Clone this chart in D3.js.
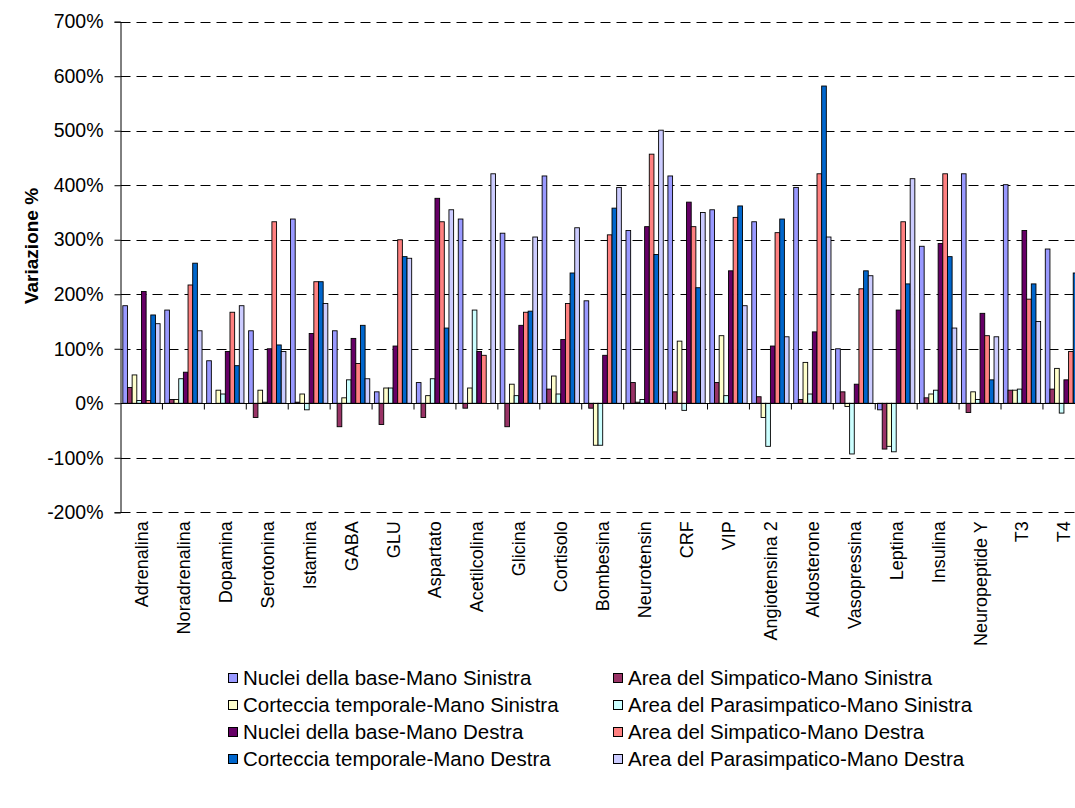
<!DOCTYPE html>
<html>
<head>
<meta charset="utf-8">
<script src="https://cdn.jsdelivr.net/npm/d3@7/dist/d3.min.js"></script>
<style>
  html, body { margin: 0; padding: 0; background: #fff; overflow: hidden; }
  svg { display: block; font-family: "Liberation Sans", Arial, sans-serif; }
</style>
</head>
<body>
<svg id="chart" width="1075" height="808"></svg>
<script>
// Neurotransmitters / hormones measured
const categories = ["Adrenalina","Noradrenalina","Dopamina","Serotonina","Istamina","GABA","GLU",
  "Aspartato","Acetilcolina","Glicina","Cortisolo","Bombesina","Neurotensin","CRF","VIP",
  "Angiotensina 2","Aldosterone","Vasopressina","Leptina","Insulina","Neuropeptide Y","T3","T4"];

const seriesNames = [
  "Nuclei della base-Mano Sinistra",
  "Area del Simpatico-Mano Sinistra",
  "Corteccia temporale-Mano Sinistra",
  "Area del Parasimpatico-Mano Sinistra",
  "Nuclei della base-Mano Destra",
  "Area del Simpatico-Mano Destra",
  "Corteccia temporale-Mano Destra",
  "Area del Parasimpatico-Mano Destra"
];

// Percentage variation per series, one value per category
const nucleiSinistra   = [179,171,78,133,338,133,21,38,338,312,417,188,317,417,355,333,396,100,-12,288,421,401,283];
const simpaticoSinistra = [29,7,0,-26,2,-43,-39,-26,-9,-43,26,-9,38,21,38,12,7,21,-84,10,-17,24,26];
const cortecciaSinistra = [52,7,24,24,17,10,28,14,28,35,50,-77,2,114,124,-26,75,-6,-79,17,21,24,64];
const parasimpSinistra  = [5,45,17,2,-12,43,28,45,171,14,17,-77,7,-13,14,-79,17,-93,-89,24,7,26,-18];
const nucleiDestra      = [205,57,95,100,128,119,105,376,95,143,117,88,324,369,243,105,131,35,171,293,165,317,43];
const simpaticoDestra   = [5,217,167,333,223,73,300,333,88,167,183,309,457,324,341,313,421,210,333,421,124,191,95];
const cortecciaDestra   = [162,257,69,107,223,143,269,138,0,169,239,358,273,212,362,338,582,243,219,269,43,219,239];
const parasimpDestra    = [146,133,179,95,183,45,266,355,421,305,322,396,501,350,179,122,305,234,412,138,122,150,null];

const seriesValues = [nucleiSinistra, simpaticoSinistra, cortecciaSinistra, parasimpSinistra,
                      nucleiDestra, simpaticoDestra, cortecciaDestra, parasimpDestra];

const yTicks = [-200,-100,0,100,200,300,400,500,600,700];

const colors = ["#9999FF","#993366","#FFFFCC","#CCFFFF","#660066","#FF8080","#0066CC","#CCCCFF"];

const svg = d3.select("#chart");

// plot frame
const plotLeft = 120.5, plotTop = 21.7, plotBottom = 512.3;
const step = 41.93;
const plotRight = plotLeft + step * categories.length;

const x = d3.scaleBand().domain(categories).range([plotLeft, plotRight])
  .paddingInner(1/9).paddingOuter(1/18);
const xs = d3.scaleBand().domain(d3.range(seriesNames.length)).range([0, x.bandwidth()]);
const y = d3.scaleLinear().domain([-200, 700]).range([plotBottom, plotTop]);

// dashed horizontal gridlines
svg.append("g").selectAll("line")
  .data(yTicks.filter(d => d !== 0))
  .join("line")
  .attr("x1", plotLeft).attr("x2", plotRight)
  .attr("y1", d => Math.round(y(d)) + 0.5).attr("y2", d => Math.round(y(d)) + 0.5)
  .attr("stroke", "#000").attr("stroke-width", 1)
  .attr("stroke-dasharray", "10,6");

// bars
const flat = [];
seriesValues.forEach((vals, s) => vals.forEach((v, i) => {
  if (v !== null) flat.push({ s, cat: categories[i], v });
}));

svg.append("g").selectAll("rect")
  .data(flat)
  .join("rect")
  .attr("x", d => x(d.cat) + xs(d.s))
  .attr("width", xs.bandwidth())
  .attr("y", d => y(Math.max(0, d.v)))
  .attr("height", d => Math.abs(y(d.v) - y(0)))
  .attr("fill", d => colors[d.s])
  .attr("stroke", "#000")
  .attr("stroke-width", 0.9);

// y axis
const yAxis = d3.axisLeft(y).tickValues(yTicks).tickSize(6).tickPadding(11)
  .tickFormat(d => d + "%");
const gy = svg.append("g").attr("transform", `translate(${plotLeft},0)`).call(yAxis);
gy.select(".domain").attr("stroke", "#000");
gy.selectAll(".tick line").attr("stroke", "#000");
gy.selectAll("text").attr("font-size", 19.5).attr("fill", "#000")
  .attr("font-family", "Liberation Sans, Arial, sans-serif");

// zero line with category tick marks
const y0 = Math.round(y(0)) + 0.5;
svg.append("line").attr("x1", plotLeft).attr("x2", plotRight)
  .attr("y1", y0).attr("y2", y0).attr("stroke", "#000");
svg.append("g").selectAll("line")
  .data(d3.range(1, categories.length + 1))
  .join("line")
  .attr("x1", k => plotLeft + k * step).attr("x2", k => plotLeft + k * step)
  .attr("y1", y0).attr("y2", y0 + 6)
  .attr("stroke", "#000");

// category labels below the plot, rotated
svg.append("g").selectAll("text")
  .data(categories)
  .join("text")
  .attr("transform", d => `translate(${x(d) + x.bandwidth() / 2 + 6.5},${plotBottom + 9}) rotate(-90)`)
  .attr("text-anchor", "end")
  .attr("font-size", 18)
  .text(d => d);

// axis title
svg.append("text")
  .attr("transform", `translate(38,246) rotate(-90)`)
  .attr("text-anchor", "middle")
  .attr("font-size", 19).attr("font-weight", "bold")
  .text("Variazione %");

// legend: two columns, four rows
const legend = svg.append("g");
const legItems = legend.selectAll("g")
  .data(seriesNames)
  .join("g")
  .attr("transform", (d, i) => `translate(${i % 2 === 0 ? 228 : 613},${678 + Math.floor(i / 2) * 27})`);
legItems.append("rect")
  .attr("x", 0.5).attr("y", -4.5).attr("width", 9).attr("height", 9)
  .attr("fill", (d, i) => colors[i]).attr("stroke", "#000").attr("stroke-width", 1);
legItems.append("text")
  .attr("x", 15).attr("dy", "0.36em")
  .attr("font-size", 20.5)
  .text(d => d);
</script>
</body>
</html>
